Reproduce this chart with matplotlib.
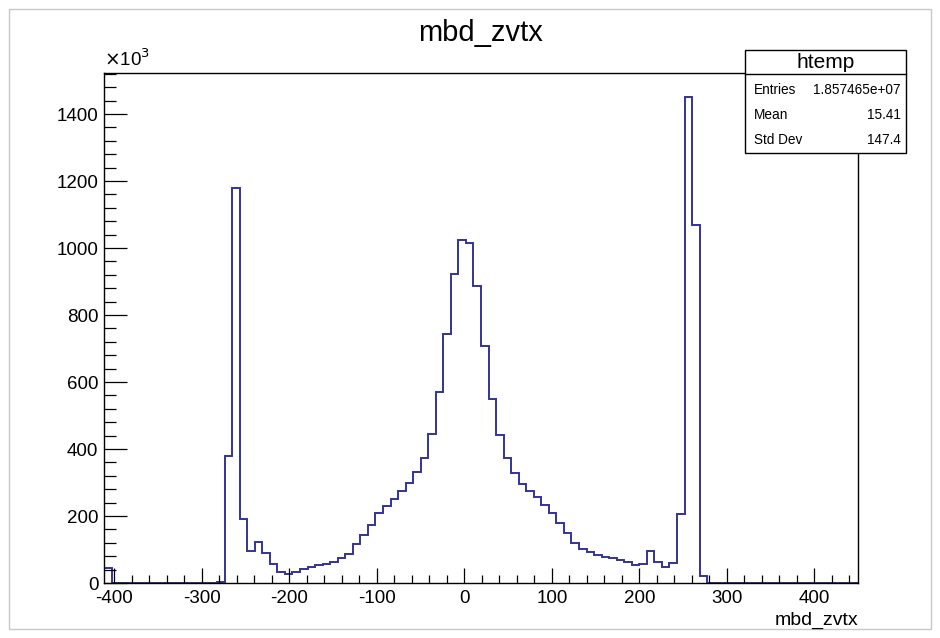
import numpy as np
import matplotlib
matplotlib.use('Agg')
import matplotlib.pyplot as plt
from matplotlib.patches import Rectangle
from matplotlib.lines import Line2D
from matplotlib.ticker import MultipleLocator

plt.rcParams['font.family'] = ['Liberation Sans', 'DejaVu Sans']

# histogram: 100 bins over the htemp range, contents in units of 10^3
x_min = -412.0
x_max = 450.0
n_bins = 100
counts = [
    45, 0, 0, 0, 0, 0, 0, 0, 0, 0,
    0, 0, 0, 0, 0, 2, 380, 1178, 191, 97,
    121, 89, 57, 32, 27, 34, 42, 49, 53, 57,
    64, 76, 86, 115, 143, 174, 208, 230, 252, 275,
    298, 332, 372, 445, 569, 742, 921, 1025, 1014, 888,
    707, 550, 441, 374, 329, 297, 275, 257, 232, 208,
    180, 148, 120, 102, 92, 84, 79, 74, 69, 62,
    53, 57, 97, 64, 49, 59, 206, 1450, 1070, 20,
    0, 0, 0, 0, 0, 0, 0, 0, 0, 0,
    0, 0, 0, 0, 0, 0, 0, 0, 0, 0,
]
y_ticks = [0, 200, 400, 600, 800, 1000, 1200, 1400]
x_ticks = [-400, -300, -200, -100, 0, 100, 200, 300, 400]

title = 'mbd_zvtx'
stat_name = 'htemp'
stat_rows = [('Entries', '1.857465e+07'), ('Mean', '15.41'), ('Std Dev', '147.4')]

W, H = 940, 638
fig = plt.figure(figsize=(W / 100, H / 100), dpi=100)

# axes frame in pixel terms -> figure fractions
left, right, top, bottom = 104, 858, 73, 583
ax = fig.add_axes([left / W, 1 - bottom / H, (right - left) / W, (bottom - top) / H])

edges = np.linspace(x_min, x_max, n_bins + 1)
ax.stairs(np.array(counts, dtype=float), edges, color='#333399', linewidth=1.4, baseline=0)

ax.set_xlim(x_min, x_max)
ax.set_ylim(0, max(counts) * 1.05)

ax.set_xticks(x_ticks)
ax.set_xticklabels([str(t) for t in x_ticks])
ax.set_yticks(y_ticks)
ax.set_yticklabels([str(t) for t in y_ticks])
ax.xaxis.set_minor_locator(MultipleLocator(20))
ax.yaxis.set_minor_locator(MultipleLocator(40))

ax.tick_params(axis='both', which='both', direction='in', top=False, right=False,
               width=0.9, colors='black', labelsize=13.5)
ax.tick_params(axis='x', which='major', length=11, pad=5)
ax.tick_params(axis='x', which='minor', length=5.5)
ax.tick_params(axis='y', which='major', length=16.5, pad=4)
ax.tick_params(axis='y', which='minor', length=8.5)
for sp in ax.spines.values():
    sp.set_linewidth(1.0)
    sp.set_color('black')

# exponent label above the y axis
ax.text(0.0, 1.005, r'$\times$10$^{3}$', transform=ax.transAxes, ha='left', va='bottom',
        fontsize=13.5)

# x axis title, right aligned under the frame
fig.text(right / W, 1 - 620 / H, title, ha='right', va='center', fontsize=14)

# histogram title
fig.text((left + right) / 2 / W, 1 - 33 / H, title, ha='center', va='center', fontsize=21)

# stats box
bx0, bx1, by0, by1, bsep = 745, 906, 50, 153, 74
fig.add_artist(Rectangle((bx0 / W, 1 - by1 / H), (bx1 - bx0) / W, (by1 - by0) / H,
                         transform=fig.transFigure, facecolor='white', edgecolor='black',
                         linewidth=1.0, zorder=10))
fig.add_artist(Line2D([bx0 / W, bx1 / W], [1 - bsep / H, 1 - bsep / H],
                      transform=fig.transFigure, color='black', linewidth=1.0, zorder=11))
fig.text((bx0 + bx1) / 2 / W, 1 - (by0 + bsep) / 2 / H, stat_name, ha='center', va='center',
         fontsize=15, zorder=12)
row_y = [90, 115, 140]
for (name, val), yy in zip(stat_rows, row_y):
    fig.text((bx0 + 9) / W, 1 - yy / H, name, ha='left', va='center', fontsize=9.8, zorder=12)
    fig.text((bx1 - 5) / W, 1 - yy / H, val, ha='right', va='center', fontsize=9.8, zorder=12)

# canvas border
fig.add_artist(Rectangle((9 / W, 9 / H), (W - 18) / W, (H - 18) / H, transform=fig.transFigure,
                         facecolor='none', edgecolor='#c8c8c8', linewidth=1.0, zorder=0))

fig.savefig('out.png', dpi=100)
